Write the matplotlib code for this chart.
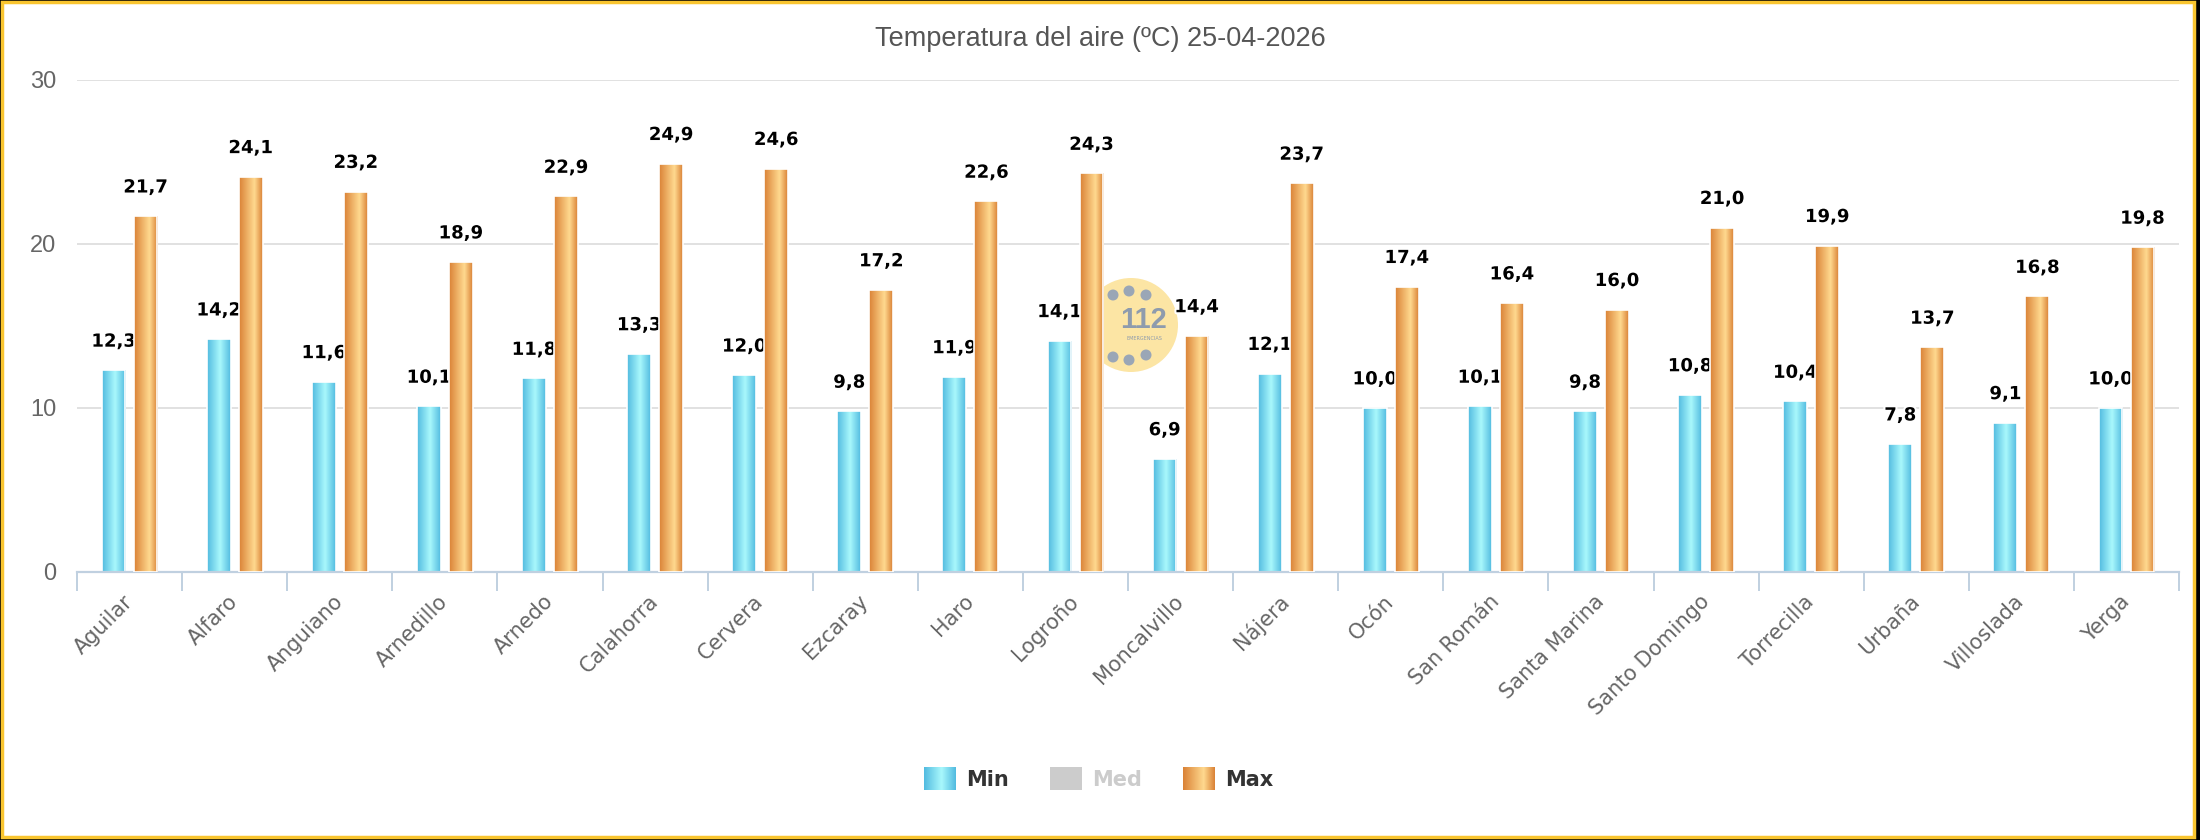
import numpy as np
import matplotlib
matplotlib.use("Agg")
import matplotlib.pyplot as plt
from matplotlib.patches import Rectangle, Circle
import matplotlib.patheffects as pe
import matplotlib.colors as mcolors
from matplotlib import font_manager as fm

categories = ["Aguilar", "Alfaro", "Anguiano", "Arnedillo", "Arnedo", "Calahorra",
              "Cervera", "Ezcaray", "Haro", "Logroño", "Moncalvillo", "Nájera",
              "Ocón", "San Román", "Santa Marina", "Santo Domingo", "Torrecilla",
              "Urbaña", "Villoslada", "Yerga"]
min_vals = [12.3, 14.2, 11.6, 10.1, 11.8, 13.3, 12.0, 9.8, 11.9, 14.1,
            6.9, 12.1, 10.0, 10.1, 9.8, 10.8, 10.4, 7.8, 9.1, 10.0]
max_vals = [21.7, 24.1, 23.2, 18.9, 22.9, 24.9, 24.6, 17.2, 22.6, 24.3,
            14.4, 23.7, 17.4, 16.4, 16.0, 21.0, 19.9, 13.7, 16.8, 19.8]
series_names = ["Min", "Med", "Max"]
y_ticks = [0, 10, 20, 30]
title = "Temperatura del aire (ºC) 25-04-2026"

W, H, DPI = 2200, 840, 100
fig = plt.figure(figsize=(W / DPI, H / DPI), dpi=DPI, facecolor="black")

available = {f.name for f in fm.fontManager.ttflist}
NARROW = ["Liberation Sans Narrow" if "Liberation Sans Narrow" in available else "Liberation Sans",
          "DejaVu Sans"]

def make_grad(stops, n=64):
    pos = [s[0] for s in stops]
    cols = np.array([mcolors.to_rgb(s[1]) for s in stops])
    x = np.linspace(0, 1, n)
    g = np.stack([np.interp(x, pos, cols[:, c]) for c in range(3)], axis=-1)
    return g[np.newaxis, :, :]

cyan_grad = make_grad([(0, "#52BBE0"), (0.55, "#A9F8FC"), (1, "#52BBE0")])
orange_grad = make_grad([(0, "#DA8236"), (0.65, "#FFD98F"), (1, "#DA8236")])

# overlay (background, border, title, legend, logo)
ov = fig.add_axes([0, 0, 1, 1], zorder=0)
ov.set_xlim(0, W)
ov.set_ylim(H, 0)
ov.axis("off")
ov.add_patch(Rectangle((1.5, 1.5), W - 8, H - 5, facecolor="white",
                       edgecolor="#F9C52F", linewidth=2.5))
ov.text(1100, 39, title, ha="center", va="center", fontsize=19.5,
        color="#555555", family=NARROW)

# watermark logo
ov.add_patch(Circle((1131, 325), 47, facecolor="#FCE5A4", edgecolor="none"))
for (dx, dy) in [(1113, 295), (1129, 291), (1146, 295), (1113, 357), (1129, 360), (1146, 355)]:
    ov.add_patch(Circle((dx, dy), 5.5, facecolor="#9AA6B6", edgecolor="none"))
ov.text(1144, 320, "112", ha="center", va="center", fontsize=21, fontweight="bold",
        color="#8E9BAD", family=NARROW)
ov.text(1144, 339, "EMERGENCIAS", ha="center", va="center", fontsize=3.5,
        color="#8E9BAD")

# legend
def leg_box(x0, grad, solid=None):
    if solid is not None:
        ov.add_patch(Rectangle((x0, 767), 32, 23, facecolor=solid, edgecolor="none"))
    else:
        ov.imshow(grad, extent=[x0, x0 + 32, 790, 767], aspect="auto",
                  interpolation="bilinear", zorder=2)
leg_box(924, cyan_grad)
ov.text(966, 780, series_names[0], ha="left", va="center", fontsize=15,
        fontweight="bold", color="#333333")
leg_box(1050, None, solid="#CCCCCC")
ov.text(1092, 780, series_names[1], ha="left", va="center", fontsize=15,
        fontweight="bold", color="#CCCCCC")
leg_box(1183, orange_grad)
ov.text(1225, 780, series_names[2], ha="left", va="center", fontsize=15,
        fontweight="bold", color="#333333")
ov.set_xlim(0, W)
ov.set_ylim(H, 0)

# main chart
left, right, top, bottom = 77, 2179, 80, 572
ax = fig.add_axes([left / W, (H - bottom) / H, (right - left) / W, (bottom - top) / H], zorder=1)
ax.patch.set_alpha(0)

n = len(categories)
x = np.arange(n)
off, bw = 0.152, 0.226

label_fx = [pe.withStroke(linewidth=3, foreground="white")]

def draw_series(vals, xpos, grad, z):
    bars = ax.bar(xpos, vals, width=bw, facecolor="none", edgecolor="white",
                  linewidth=1.2, zorder=z + 0.1)
    for p in bars.patches:
        x0, y0 = p.get_x(), p.get_y()
        im = ax.imshow(grad, extent=[x0, x0 + p.get_width(), y0, y0 + p.get_height()],
                       aspect="auto", interpolation="bilinear", zorder=z)
        im.set_clip_path(p)
    for xi, v in zip(xpos, vals):
        ax.annotate(f"{v:.1f}".replace(".", ","), (xi, v), xytext=(0, 17),
                    textcoords="offset points", ha="center", va="baseline",
                    fontsize=13, fontweight="bold", color="black",
                    path_effects=label_fx, zorder=z + 0.5)

draw_series(min_vals, x - off, cyan_grad, 2)
draw_series(max_vals, x + off, orange_grad, 4)

ax.set_xlim(-0.5, n - 0.5)
ax.set_ylim(0, 30)
ax.set_yticks(y_ticks)
ax.set_yticklabels([str(t) for t in y_ticks], family=NARROW, fontsize=17, color="#666666")
ax.tick_params(axis="y", length=0, pad=15)
ax.yaxis.grid(True, color="#D8D8D8", linewidth=1.1, zorder=0.5)
ax.set_axisbelow(True)
for s in ["left", "right", "top"]:
    ax.spines[s].set_visible(False)
ax.spines["bottom"].set_color("#C0D0E0")
ax.spines["bottom"].set_linewidth(1.6)

ax.set_xticks(x)
ax.set_xticklabels(categories, rotation=45, ha="right", va="center",
                   rotation_mode="anchor", fontsize=15, color="#666666")
ax.tick_params(axis="x", which="major", length=0, pad=19)
ax.set_xticks(np.arange(-0.5, n, 1.0), minor=True)
ax.tick_params(axis="x", which="minor", length=13.7, width=1.4, color="#C0D0E0")

fig.savefig("out.png", dpi=DPI, facecolor=fig.get_facecolor())
